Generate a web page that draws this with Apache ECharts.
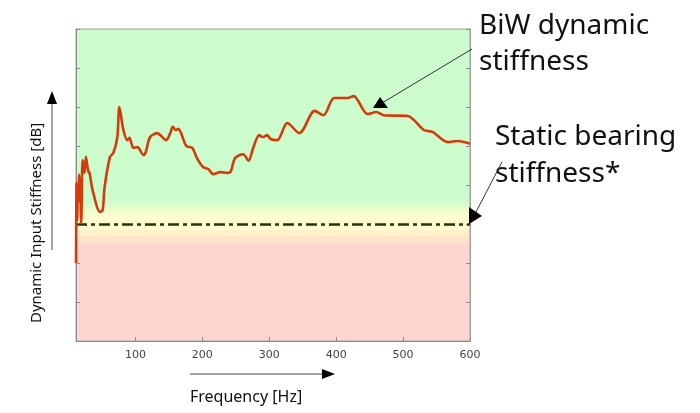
<!DOCTYPE html>
<html lang="en">
<head>
    <meta charset="UTF-8">
    <title>Dynamic Input Stiffness</title>
    <style>
        html, body { margin: 0; padding: 0; background: #fff; }
    </style>
</head>
<body>
    <div id="main" style="width: 700px;height:413px;"></div>
    <script src="https://cdn.jsdelivr.net/npm/echarts@6/dist/echarts.min.js"></script>
    <script>
    // frequency [Hz] and stiffness (axis units, 0..8, no labels on the y axis)
    var freq = [11.2, 11.5, 12, 13, 14, 15, 16, 17.5, 19, 21, 22.5, 24, 26, 28, 30, 31.5, 36, 47, 51, 54,
        62, 67, 73, 76, 82, 88, 91, 97, 103, 112, 115, 122, 133, 137, 146, 152, 156, 160, 164, 176,
        185, 192, 201, 209, 216, 227, 237, 242, 249, 261, 269, 276, 285, 290, 297, 302, 312, 327, 345, 368,
        381, 397, 417, 426, 447, 460, 471, 507, 516, 531, 544, 567, 582, 600];
    var stiffness = [2.0, 2.92, 4.05, 3.1, 4.0, 3.6, 4.26, 3.87, 3.03, 4.64, 4.5, 4.31, 4.72, 4.51, 4.33, 4.31, 3.87, 3.31, 3.36, 3.95,
        4.72, 4.82, 5.23, 6.0, 5.41, 5.15, 5.21, 4.95, 4.97, 4.77, 4.82, 5.23, 5.33, 5.28, 5.15, 5.33, 5.49, 5.41, 5.44, 5.0,
        4.95, 4.69, 4.46, 4.41, 4.28, 4.33, 4.31, 4.33, 4.69, 4.79, 4.62, 4.95, 5.28, 5.23, 5.28, 5.18, 5.15, 5.59, 5.33, 5.9,
        5.79, 6.23, 6.23, 6.28, 5.82, 5.87, 5.79, 5.77, 5.67, 5.41, 5.36, 5.1, 5.13, 5.06];
    var staticBearing = 3;
    var xTicks = [100, 200, 300, 400, 500, 600];

    // background zones [from, to]
    var zoneRed = [0, 2.51];
    var zoneBands = [[2.51, 2.69], [2.69, 2.85], [2.85, 3.28], [3.28, 3.41], [3.41, 3.54]];
    var zoneGreen = [3.54, 8];

    var myChart = echarts.init(document.getElementById('main'));

    var lineData = [];
    for (var i = 0; i < freq.length; i++) {
        lineData.push([freq[i], stiffness[i]]);
    }

    var bandColors = ['#fde3c9', '#fef1c9', '#fdfdd0', '#ecfcca', '#dcfcca'];
    var areas = [
        [{ yAxis: zoneRed[0], itemStyle: { color: '#fed5d0' } }, { yAxis: zoneRed[1] }],
        [{ yAxis: zoneGreen[0], itemStyle: { color: '#ccfccc' } }, { yAxis: zoneGreen[1] }]
    ];
    for (var j = 0; j < zoneBands.length; j++) {
        areas.push([{ yAxis: zoneBands[j][0], itemStyle: { color: bandColors[j] } }, { yAxis: zoneBands[j][1] }]);
    }

    var axisGrey = '#8c8c8c';

    var option = {
        animation: false,
        grid: {
            left: 76,
            right: 230,
            top: 29,
            bottom: 72,
            show: true,
            z: 3,
            backgroundColor: 'transparent',
            borderColor: '#9aa89a',
            borderWidth: 1
        },
        xAxis: [
            {
                type: 'value',
                z: 4,
                min: 11.2,
                max: 600,
                axisLine: { onZero: false, lineStyle: { color: axisGrey } },
                axisTick: { inside: true, length: 4, customValues: xTicks, lineStyle: { color: axisGrey } },
                axisLabel: { customValues: xTicks, color: '#444', fontSize: 11, fontFamily: 'DejaVu Sans', margin: 9 },
                splitLine: { show: false }
            }
        ],
        yAxis: [
            {
                type: 'value',
                z: 4,
                min: 0,
                max: 8,
                interval: 1,
                axisLine: { show: true, onZero: false, lineStyle: { color: axisGrey } },
                axisTick: { show: true, inside: true, length: 4, lineStyle: { color: axisGrey } },
                axisLabel: { show: false },
                splitLine: { show: false }
            },
            {
                type: 'value',
                z: 4,
                position: 'right',
                min: 0,
                max: 8,
                interval: 1,
                axisLine: { show: true, onZero: false, lineStyle: { color: '#a0a0a0' } },
                axisTick: { show: true, inside: true, length: 4, lineStyle: { color: axisGrey } },
                axisLabel: { show: false },
                splitLine: { show: false }
            }
        ],
        series: [
            {
                name: 'zones',
                type: 'line',
                data: [],
                silent: true,
                z: 1,
                markArea: { silent: true, data: areas },
                markLine: {
                    silent: true,
                    symbol: 'none',
                    label: { show: false },
                    lineStyle: { color: '#2e2e10', width: 2.5, type: [11, 4, 4, 4] },
                    data: [{ yAxis: staticBearing }]
                }
            },
            {
                name: 'BiW dynamic stiffness',
                type: 'line',
                data: lineData,
                smooth: 0.3,
                showSymbol: false,
                lineStyle: { color: '#d43a0c', width: 2.6 },
                z: 5
            }
        ],
        graphic: [
            {
                type: 'text', left: 479, top: 8, z: 100,
                style: { text: 'BiW dynamic\nstiffness', font: '28px "Noto Sans"', fill: '#111', lineHeight: 36 }
            },
            {
                type: 'text', left: 495, top: 119, z: 100,
                style: { text: 'Static bearing\nstiffness*', font: '28px "Noto Sans"', fill: '#111', lineHeight: 37 }
            },
            // arrow to the curve
            { type: 'line', z: 100, shape: { x1: 472, y1: 49, x2: 382, y2: 103 }, style: { stroke: '#333', lineWidth: 1 } },
            { type: 'polygon', z: 100, shape: { points: [[373, 108], [380, 97], [388, 108]] }, style: { fill: '#000' } },
            // arrow to the static line
            { type: 'line', z: 100, shape: { x1: 502, y1: 162, x2: 476, y2: 212 }, style: { stroke: '#333', lineWidth: 1 } },
            { type: 'polygon', z: 100, shape: { points: [[469, 207], [482, 216], [469, 224]] }, style: { fill: '#000' } },
            // y axis arrow + title
            { type: 'line', z: 100, shape: { x1: 52, y1: 250, x2: 52, y2: 100 }, style: { stroke: '#444', lineWidth: 1 } },
            { type: 'polygon', z: 100, shape: { points: [[47, 104], [52, 91], [57, 104]] }, style: { fill: '#000' } },
            {
                type: 'text', x: 37, y: 223, rotation: Math.PI / 2, z: 100,
                style: { text: 'Dynamic Input Stiffness [dB]', font: '15px "Noto Sans"', fill: '#111', align: 'center', verticalAlign: 'middle' }
            },
            // x axis arrow + title
            { type: 'line', z: 100, shape: { x1: 190, y1: 374, x2: 324, y2: 374 }, style: { stroke: '#444', lineWidth: 1 } },
            { type: 'polygon', z: 100, shape: { points: [[322, 369], [335, 374], [322, 379]] }, style: { fill: '#000' } },
            {
                type: 'text', left: 190, top: 389, z: 100,
                style: { text: 'Frequency [Hz]', font: '16px "Noto Sans"', fill: '#111' }
            }
        ]
    };
    myChart.setOption(option);
    </script>
</body>
</html>
